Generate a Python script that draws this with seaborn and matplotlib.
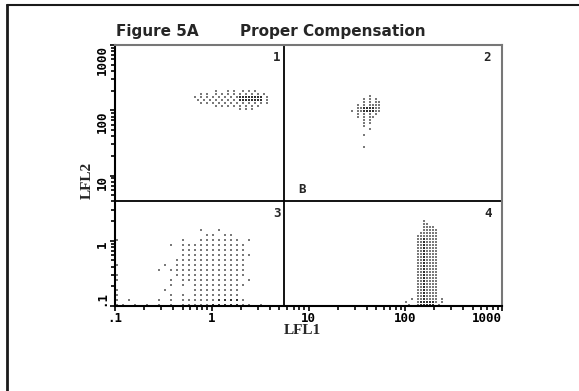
import pandas as pd
import matplotlib.pyplot as plt
from matplotlib.lines import Line2D
import seaborn as sns

# channel values (LFL1 / LFL2) of the dot lattice for each population,
# and a map of which lattice cells hold dots ('o' dot, '#' dense, '-' none)
q1_x = [0.671, 0.721, 0.774, 0.831, 0.893, 0.959, 1.030, 1.106, 1.188, 1.276,
        1.370, 1.472, 1.581, 1.698, 1.824, 1.959, 2.104, 2.26, 2.427, 2.606,
        2.80, 3.007, 3.23, 3.47, 3.72, 4.0]
q1_y = [196.3, 176.2, 158.5, 142.5, 128.2, 115.2, 103.6]
q1_map = [
    "-------o---o-o--o-o-o-----",
    "--o-o--o-o-o-o-o-o-o-o-o--",
    "o-o-o-o-o-o-o-o########-o-",
    "-o-o-o-o-o-o-o-########-o-",
    "--o-o-o-o-o-o-o-o-o-o-o-o-",
    "-------o-o-o-o-o-o-o-o----",
    "---------------o-o-o------",
]

q2_x = [28.2, 30.2, 32.5, 34.9, 37.5, 40.3, 43.2, 46.4, 49.9, 53.6, 57.5]
q2_y = [164, 147.6, 132.8, 119.4, 107.4, 96.6, 86.8, 78.0, 70.2, 63.1,
        56.8, 51.0, 45.9, 41.2, 37.1, 33.3, 30.0, 27.0]
q2_map = [
    "------o----",
    "----o-o-o--",
    "----o-o-oo-",
    "--o-o-oooo-",
    "--oo####oo-",
    "o-oo####oo-",
    "--o-o-o-o--",
    "--o-o-oo---",
    "----o-o----",
    "----o-o----",
    "----o------",
    "------o----",
    "-----------",
    "----o------",
    "-----------",
    "-----------",
    "-----------",
    "----o------",
]

q3_x = [0.1049, 0.121, 0.1395, 0.1609, 0.1856, 0.2141, 0.247, 0.2849, 0.3286,
        0.3791, 0.4373, 0.5044, 0.5819, 0.6712, 0.7743, 0.8931, 1.030, 1.188,
        1.371, 1.581, 1.824, 2.104, 2.427, 2.80, 3.23]
q3_y = [1.477, 1.237, 1.036, 0.868, 0.727, 0.609, 0.510, 0.427, 0.358, 0.300,
        0.251, 0.210, 0.176, 0.148, 0.124, 0.1036]
q3_map = [
    "--------------o--o-------",
    "---------------oo-oo-----",
    "o----------o--ooooooo-o--",
    "---------o-ooooooooooo---",
    "-----------ooooooooooo---",
    "-----------oooooooooooo--",
    "----------oooooooooooo---",
    "o-------o-oooooooooooo---",
    "-------o-ooooooooooooo---",
    "o---------oooooooooooo---",
    "o--------o-oooooooooo-o--",
    "---------o-o-ooooooooo---",
    "o-------o----oooooooo----",
    "o--------o-o-oooooooo----",
    "o-o----o-o-oooooo####o---",
    "oo-o-o-o-o-ooooo#####oo-o",
]

q4_x = [101.8, 109.3, 117.4, 126.1, 135.4, 145.4, 156.2, 167.8, 180.2, 193.6,
        207.9, 223.3, 239.8]
q4_y = [2.03, 1.827, 1.643, 1.477, 1.329, 1.195, 1.074, 0.966, 0.869, 0.781,
        0.702, 0.631, 0.568, 0.5105, 0.459, 0.4127, 0.371, 0.3336, 0.300,
        0.2698, 0.2426, 0.218, 0.196, 0.1763, 0.1585, 0.1425, 0.1281, 0.1152,
        0.1036]
q4_map = [
    "------o------",
    "------oo-----",
    "------oooo---",
    "------ooooo--",
    "-----oooooo--",
    "----ooooooo--",
] + ["----oo#oooo--"] * 20 + [
    "--o-oo#oooo-o",
    "o---o#####o-o",
    "-o--o#####-o-",
]

x_ticks = [0.1, 1, 10, 100, 1000]
x_labels = [".1", "1", "10", "100", "1000"]
y_ticks = [0.1, 1, 10, 100, 1000]
y_labels = [".1", "1", "10", "100", "1000"]
x_gate = 5.58
y_gate = 4.12


def map_to_rows(xs, ys, cells):
    rows = []
    for j, line in enumerate(cells):
        for i, c in enumerate(line):
            if c != "-":
                rows.append({"x": xs[i], "y": ys[j], "tone": c})
    return rows


recs = (map_to_rows(q1_x, q1_y, q1_map) + map_to_rows(q2_x, q2_y, q2_map)
        + map_to_rows(q3_x, q3_y, q3_map) + map_to_rows(q4_x, q4_y, q4_map))
df = pd.DataFrame(recs)

sns.set_style("white")
W, H = 579, 391
fig = plt.figure(figsize=(W / 100, H / 100), dpi=100)
ax = fig.add_axes([115 / W, 1 - 306 / H, 387 / W, 261 / H])

sns.scatterplot(data=df[df.tone == "o"], x="x", y="y", ax=ax, marker="s",
                s=2.2, color="#7a7a7a", linewidth=0, legend=False)
sns.scatterplot(data=df[df.tone == "#"], x="x", y="y", ax=ax, marker="s",
                s=3.5, color="#333333", linewidth=0, legend=False)

ax.set_xscale("log")
ax.set_yscale("log")
ax.set_xlim(0.1, 1000)
ax.set_ylim(0.1, 1000)
ax.axvline(x_gate, color="black", lw=1.3)
ax.axhline(y_gate, color="black", lw=1.3)

for side in ["left", "bottom"]:
    ax.spines[side].set_color("black")
    ax.spines[side].set_linewidth(1.5)
for side in ["top", "right"]:
    ax.spines[side].set_color("#777777")
    ax.spines[side].set_linewidth(1.5)

ax.tick_params(which="both", direction="out", colors="black", width=1.2,
               bottom=True, left=True, top=False, right=False, pad=0.8)
ax.tick_params(which="major", length=3.8)
ax.tick_params(which="minor", length=3.2)

tick_font = dict(family="DejaVu Sans Mono", weight="bold", size=9)
ax.set_xticks(x_ticks, labels=x_labels, **tick_font)
ax.set_yticks(y_ticks, labels=y_labels, **tick_font)
xl = ax.get_xticklabels()
xl[-1].set_ha("right")
for lbl in ax.get_yticklabels():
    lbl.set_rotation(90)
    lbl.set_va("top")
ax.get_yticklabels()[0].set_va("bottom")

ax.set_xlabel("LFL1", family="Liberation Serif", weight="bold", size=11)
ax.set_ylabel("LFL2", family="Liberation Serif", weight="bold", size=11)
ax.xaxis.set_label_coords((302 - 115) / 387, -(324 - 306) / 261)
ax.yaxis.set_label_coords((94 - 115) / 387, 1 - (180 - 45) / 261)

quad_font = dict(family="DejaVu Sans Mono", weight="bold", size=9,
                 transform=ax.transAxes, ha="center", va="center")
ax.text(0.4186, 0.954, "1", **quad_font)
ax.text(0.961, 0.954, "2", **quad_font)
ax.text(0.4186, 0.356, "3", **quad_font)
ax.text(0.964, 0.356, "4", **quad_font)
ax.text(0.483, 0.448, "B", **quad_font)

title_font = dict(family="DejaVu Sans", weight="bold", size=11, va="baseline")
fig.text(116 / W, 1 - 36 / H, "Figure 5A", **title_font)
fig.text(240 / W, 1 - 36 / H, "Proper Compensation", **title_font)

# outer frame (left and top edges of the scanned figure)
fig.add_artist(Line2D([7 / W, 7 / W], [0, 1 - 5 / H], transform=fig.transFigure,
                      color="#1a1a1a", lw=2))
fig.add_artist(Line2D([7 / W, 1], [1 - 5 / H, 1 - 5 / H], transform=fig.transFigure,
                      color="#1a1a1a", lw=1.5))

fig.savefig("out.png", dpi=100)
